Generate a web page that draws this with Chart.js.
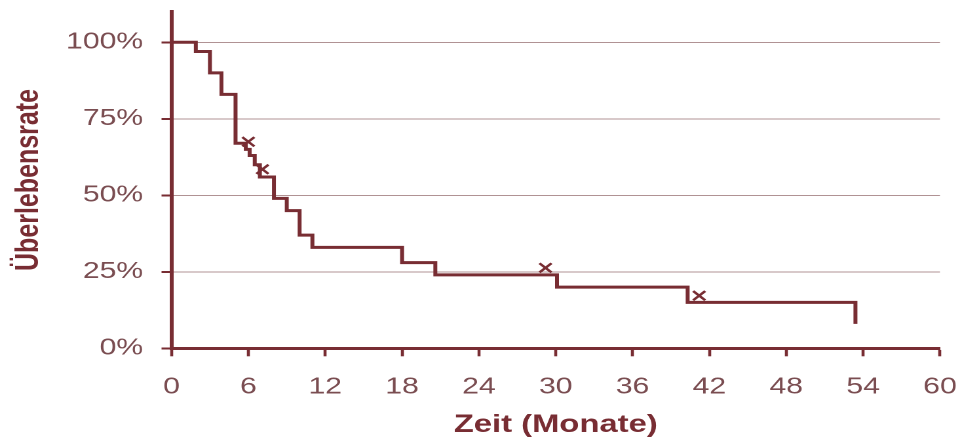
<!DOCTYPE html>
<html>
<head>
<meta charset="utf-8">
<script src="https://cdn.jsdelivr.net/npm/chart.js@4"></script>
<style>
  html, body { margin: 0; padding: 0; background: #ffffff; overflow: hidden; }
  /* the plot is laid out on a narrower canvas and widened to the page width */
  #wrap { position: absolute; left: 0; top: 0; width: 734px; height: 444px;
          transform: scaleX(1.3106); transform-origin: 0 0; }
</style>
</head>
<body>
<div id="wrap"><canvas id="km"></canvas></div>
<script>
// Kaplan-Meier estimate: month of each event and survival (%) after it
const months   = [0, 1.9, 3.0, 3.9, 5.0, 5.8, 6.1, 6.5, 6.9, 8.0, 9.0, 10.0, 11.0, 18.0, 20.6, 30.1, 40.3, 53.4];
const survival = [100, 97, 90, 83, 67, 65, 63, 60, 56, 49, 45, 37, 33, 28, 24, 20, 15, 8];

// censored observations (x marks)
const censorMonths   = [6.0, 7.1, 29.2, 41.2];
const censorSurvival = [67.5, 58.5, 26.3, 17.2];

const xTicks = [0, 6, 12, 18, 24, 30, 36, 42, 48, 54, 60];
const yTicks = [0, 25, 50, 75, 100];

const xTitle = 'Zeit (Monate)';
const yTitle = 'Überlebensrate';

const maroon = '#782d33';
const labelColor = '#7a4d51';
const gridColor = '#b09294';

const curve = months.map((m, i) => ({ x: m, y: survival[i] }));
const censored = censorMonths.map((m, i) => ({ x: m, y: censorSurvival[i] }));

// keep tick-label overhang from pushing the plot area inwards
function noEdgePadding(s) {
  s.paddingTop = 0; s.paddingBottom = 0; s.paddingLeft = 0; s.paddingRight = 0;
}

new Chart(document.getElementById('km'), {
  type: 'line',
  data: {
    datasets: [
      {
        data: curve,
        stepped: 'before',
        borderColor: maroon,
        borderWidth: 3,
        borderJoinStyle: 'miter',
        borderCapStyle: 'butt',
        pointRadius: 0,
        fill: false
      },
      {
        data: censored,
        showLine: false,
        pointStyle: 'crossRot',
        pointRadius: 6.5,
        pointBorderWidth: 2.2,
        pointBorderColor: maroon,
        pointBackgroundColor: maroon
      }
    ]
  },
  options: {
    responsive: true,
    maintainAspectRatio: false,
    devicePixelRatio: 2,
    animation: false,
    events: [],
    layout: { padding: { left: 0, right: 16.8, top: 11.7, bottom: 0 } },
    plugins: { legend: { display: false }, tooltip: { enabled: false } },
    scales: {
      x: {
        type: 'linear',
        min: 0,
        max: 60,
        afterBuildTicks: s => { s.ticks = xTicks.map(v => ({ value: v })); },
        afterFit: s => { s.height = 95.7; noEdgePadding(s); },
        ticks: {
          color: labelColor,
          padding: 17,
          font: { family: '"Liberation Sans", Arial, sans-serif', size: 23 },
          maxRotation: 0,
          autoSkip: false
        },
        grid: {
          drawOnChartArea: false,
          drawTicks: true,
          tickLength: 8,
          tickWidth: 2.3,
          tickColor: maroon
        },
        border: { display: true, color: maroon, width: 3 },
        title: {
          display: true,
          text: xTitle,
          color: maroon,
          padding: { top: 0, bottom: 4 },
          font: { family: '"Liberation Sans", Arial, sans-serif', size: 25, weight: 'bold' }
        }
      },
      y: {
        min: 0,
        max: 110,
        afterBuildTicks: s => { s.ticks = yTicks.map(v => ({ value: v })); },
        afterFit: s => { s.width = 130.85; noEdgePadding(s); },
        ticks: {
          color: labelColor,
          padding: 14,
          font: { family: '"Liberation Sans", Arial, sans-serif', size: 23 },
          callback: v => v + '%'
        },
        grid: {
          color: ctx => (ctx.tick && ctx.tick.value === 0) ? 'rgba(0,0,0,0)' : gridColor,
          lineWidth: 1,
          drawTicks: true,
          tickLength: 7.6,
          tickWidth: 2,
          tickColor: maroon
        },
        border: { display: true, color: maroon, width: 3 },
        title: {
          display: true,
          text: yTitle,
          color: maroon,
          padding: { top: 7, bottom: 0 },
          font: { family: '"Liberation Sans", Arial, sans-serif', size: 25, weight: 'bold' }
        }
      }
    }
  }
});
</script>
</body>
</html>
